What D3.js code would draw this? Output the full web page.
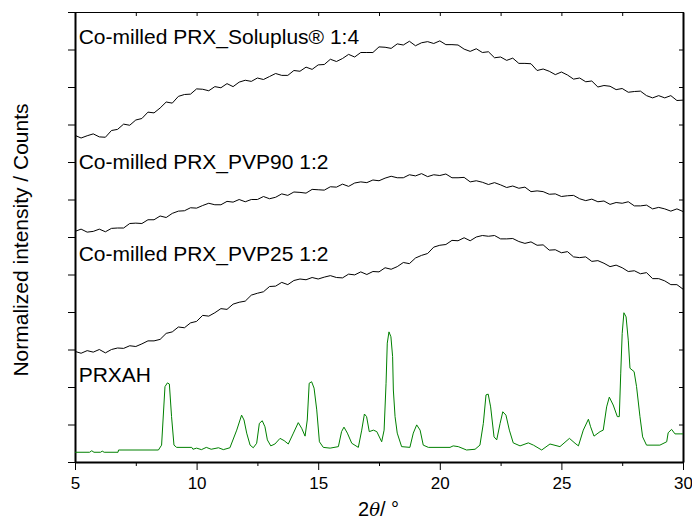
<!DOCTYPE html>
<html>
<head>
<meta charset="utf-8">
<script src="https://cdn.jsdelivr.net/npm/d3@7"></script>
<style>
  body { margin: 0; background: #fff; }
  svg { display: block; font-family: "Liberation Sans", Arial, sans-serif; }
</style>
</head>
<body>
<svg></svg>
<script>
// 2theta grid of the amorphous patterns (0.25 deg step)
const twoTheta = d3.range(0, 101).map(i => 5 + i * 0.25);

// normalized + offset intensities
const soluplus = [
  8.71, 8.64, 8.70, 8.75, 8.67, 8.66, 8.84, 8.87, 9.01, 8.98, 9.12, 9.16, 9.33, 9.31, 9.44, 9.60,
  9.57, 9.75, 9.80, 9.81, 9.95, 9.94, 9.90, 10.01, 9.98, 10.09, 10.01, 10.13, 10.18, 10.15, 10.24, 10.20,
  10.28, 10.36, 10.31, 10.31, 10.44, 10.42, 10.53, 10.47, 10.59, 10.60, 10.74, 10.68, 10.76, 10.87, 10.80, 10.92,
  10.92, 10.92, 11.07, 11.06, 11.03, 11.15, 11.12, 11.22, 11.10, 11.18, 11.21, 11.16, 11.23, 11.13, 11.13, 11.12,
  11.01, 10.95, 11.02, 10.92, 10.94, 10.78, 10.80, 10.71, 10.77, 10.63, 10.63, 10.62, 10.44, 10.48, 10.42, 10.33,
  10.40, 10.32, 10.21, 10.24, 10.14, 10.16, 10.00, 10.04, 10.02, 9.93, 9.96, 9.86, 9.88, 9.89, 9.77, 9.71,
  9.77, 9.71, 9.77, 9.64, 9.65
];
const pvp90 = [
  6.15, 6.21, 6.13, 6.15, 6.21, 6.14, 6.23, 6.24, 6.24, 6.36, 6.37, 6.36, 6.46, 6.46, 6.56, 6.52,
  6.63, 6.69, 6.70, 6.78, 6.77, 6.84, 6.90, 6.86, 6.86, 6.95, 6.93, 7.00, 6.94, 7.00, 7.00, 7.08,
  7.02, 7.06, 7.15, 7.11, 7.20, 7.19, 7.17, 7.27, 7.26, 7.25, 7.34, 7.33, 7.41, 7.35, 7.44, 7.47,
  7.45, 7.52, 7.50, 7.57, 7.62, 7.58, 7.58, 7.66, 7.63, 7.69, 7.61, 7.66, 7.64, 7.68, 7.58, 7.58,
  7.59, 7.47, 7.50, 7.46, 7.40, 7.45, 7.39, 7.32, 7.36, 7.30, 7.33, 7.21, 7.23, 7.21, 7.14, 7.15,
  7.08, 7.10, 7.11, 7.02, 6.97, 7.01, 6.94, 6.96, 6.87, 6.92, 6.90, 6.94, 6.83, 6.83, 6.85, 6.75,
  6.79, 6.75, 6.69, 6.75, 6.68
];
const pvp25 = [
  2.95, 2.90, 2.97, 2.93, 3.00, 2.91, 3.00, 3.04, 3.03, 3.10, 3.08, 3.15, 3.23, 3.23, 3.27, 3.43,
  3.47, 3.60, 3.58, 3.71, 3.75, 3.91, 3.89, 3.98, 4.09, 4.07, 4.21, 4.26, 4.29, 4.45, 4.50, 4.54,
  4.68, 4.69, 4.79, 4.73, 4.84, 4.88, 4.86, 4.92, 4.88, 4.93, 4.97, 4.92, 4.91, 5.01, 4.99, 5.07,
  5.00, 5.08, 5.07, 5.18, 5.14, 5.21, 5.32, 5.29, 5.44, 5.51, 5.56, 5.73, 5.78, 5.80, 5.91, 5.90,
  5.98, 5.90, 6.00, 6.04, 6.02, 6.04, 5.95, 5.95, 5.96, 5.88, 5.83, 5.87, 5.78, 5.79, 5.65, 5.66,
  5.58, 5.61, 5.47, 5.45, 5.47, 5.35, 5.37, 5.30, 5.21, 5.25, 5.18, 5.08, 5.10, 5.02, 5.05, 4.89,
  4.89, 4.83, 4.73, 4.73, 4.61
];

// crystalline PRX AH pattern
const prxTheta = [
  5.00, 5.60, 5.69, 5.78, 6.05, 6.12, 6.20, 6.77, 6.79, 8.43, 8.56, 8.70, 8.80, 8.88, 8.97, 9.07,
  9.18, 9.80, 9.85, 10.0, 10.2, 10.4, 10.6, 10.9, 11.1, 11.37, 11.65, 11.85, 11.95, 12.06, 12.20, 12.33,
  12.47, 12.58, 12.70, 12.81, 12.91, 13.05, 13.22, 13.43, 13.60, 13.77, 13.98, 14.18, 14.32, 14.46, 14.55, 14.63,
  14.73, 14.83, 14.94, 15.05, 15.21, 15.49, 15.83, 15.96, 16.06, 16.20, 16.38, 16.65, 16.79, 16.90, 16.99, 17.10,
  17.27, 17.41, 17.61, 17.71, 17.79, 17.84, 17.91, 17.99, 18.06, 18.09, 18.16, 18.25, 18.43, 18.77, 18.91, 19.05,
  19.19, 19.32, 19.53, 20.42, 20.55, 20.76, 21.10, 21.45, 21.65, 21.79, 21.90, 21.99, 22.09, 22.23, 22.34, 22.48,
  22.59, 22.72, 22.86, 23.02, 23.30, 23.64, 23.85, 24.19, 24.53, 24.94, 25.33, 25.56, 25.70, 25.90, 26.11, 26.20,
  26.34, 26.59, 26.72, 26.86, 26.97, 27.13, 27.30, 27.38, 27.44, 27.50, 27.57, 27.66, 27.75, 27.82, 27.99, 28.09,
  28.23, 28.34, 28.50, 29.05, 29.33, 29.39, 29.53, 29.67, 29.88, 30.00
];
const prxAH = [
  0.26, 0.26, 0.30, 0.26, 0.26, 0.29, 0.26, 0.26, 0.32, 0.32, 0.45, 2.01, 2.11, 2.08, 1.21, 0.45,
  0.39, 0.39, 0.34, 0.37, 0.33, 0.39, 0.34, 0.38, 0.33, 0.38, 0.85, 1.25, 1.12, 0.77, 0.45, 0.38,
  0.50, 1.03, 1.10, 0.94, 0.59, 0.43, 0.48, 0.63, 0.57, 0.48, 0.77, 1.05, 0.90, 0.69, 1.12, 2.10,
  2.14, 1.97, 1.39, 0.54, 0.39, 0.37, 0.41, 0.81, 0.93, 0.77, 0.50, 0.39, 0.85, 1.28, 1.21, 0.81,
  0.85, 0.81, 0.54, 0.85, 2.10, 3.17, 3.47, 3.34, 2.81, 1.92, 1.21, 0.77, 0.41, 0.39, 0.77, 0.99,
  0.85, 0.45, 0.39, 0.39, 0.43, 0.41, 0.32, 0.34, 0.45, 1.03, 1.79, 1.81, 1.47, 0.67, 0.59, 1.03,
  1.34, 1.25, 0.85, 0.51, 0.43, 0.51, 0.45, 0.32, 0.48, 0.41, 0.63, 0.50, 0.43, 0.85, 1.14, 0.94,
  0.69, 0.81, 0.85, 1.47, 1.73, 1.52, 1.21, 1.21, 2.37, 3.43, 3.98, 3.87, 3.25, 2.50, 2.41, 2.01,
  1.21, 0.67, 0.45, 0.45, 0.54, 0.78, 0.87, 0.75, 0.75, 0.75
];

const xMajor = [5, 10, 15, 20, 25, 30];
const xMinor = [7.5, 12.5, 17.5, 22.5, 27.5];
const yTicks = d3.range(0, 13);
const sampleNames = ["Co-milled PRX_Soluplus® 1:4", "Co-milled PRX_PVP90 1:2", "Co-milled PRX_PVP25 1:2", "PRXAH"];

const width = 692, height = 522;
const svg = d3.select("svg").attr("width", width).attr("height", height);

const x = d3.scaleLinear().domain([5, 30]).range([75, 683]);
const y = d3.scaleLinear().domain([0, 12]).range([462, 12]);

// axes / frame
const styleAxis = (g, w) => {
  g.select(".domain").attr("stroke", "#000").attr("stroke-width", w);
  g.selectAll(".tick line").attr("stroke", "#000").attr("stroke-width", 1);
};

svg.append("g").attr("transform", "translate(0,12)")
  .call(d3.axisBottom(x).tickValues(xMajor.concat(xMinor)).tickSize(4).tickSizeOuter(0).tickFormat(""))
  .call(g => styleAxis(g, 1));

svg.append("g").attr("transform", "translate(683,0)")
  .call(d3.axisLeft(y).tickValues(yTicks).tickSize(4).tickSizeOuter(0).tickFormat(""))
  .call(g => styleAxis(g, 2));

svg.append("g").attr("transform", "translate(75,0)")
  .call(d3.axisLeft(y).tickValues(yTicks).tickSize(7).tickSizeOuter(0).tickFormat(""))
  .call(g => styleAxis(g, 2));

svg.append("g").attr("transform", "translate(0,462)")
  .call(d3.axisBottom(x).tickValues(xMinor).tickSize(4).tickSizeOuter(0).tickFormat(""))
  .call(g => g.select(".domain").remove())
  .call(g => g.selectAll(".tick line").attr("stroke", "#000"));

const xAxis = svg.append("g").attr("transform", "translate(0,462)")
  .call(d3.axisBottom(x).tickValues(xMajor).tickSize(8).tickSizeOuter(0).tickPadding(7).tickFormat(d3.format("d")))
  .call(g => styleAxis(g, 2));
xAxis.selectAll("text").attr("fill", "#000").attr("font-size", 17)
  .attr("font-family", "'Liberation Sans', Arial, sans-serif");

// patterns
const line = d3.line().x(d => x(d[0])).y(d => y(d[1]));
[soluplus, pvp90, pvp25].forEach(s => {
  svg.append("path")
    .datum(twoTheta.map((t, i) => [t, s[i]]))
    .attr("d", line)
    .attr("fill", "none")
    .attr("stroke", "#000")
    .attr("stroke-width", 1);
});
svg.append("path")
  .datum(prxTheta.map((t, i) => [t, prxAH[i]]))
  .attr("d", line)
  .attr("fill", "none")
  .attr("stroke", "#008000")
  .attr("stroke-width", 1);

// sample labels
const labelY = [11.16, 7.81, 5.35, 2.14];
sampleNames.forEach((name, i) => {
  svg.append("text")
    .attr("x", x(5.15))
    .attr("y", y(labelY[i]))
    .attr("font-size", 21)
    .attr("fill", "#000")
    .text(name);
});

// axis titles
const xt = svg.append("text")
  .attr("x", 358).attr("y", 516)
  .attr("font-size", 20)
  .attr("fill", "#000");
xt.append("tspan").text("2");
xt.append("tspan").attr("font-style", "italic").attr("font-family", "'DejaVu Serif', serif").attr("font-size", 18).text("θ");
xt.append("tspan").text("/ °");

svg.append("text")
  .attr("transform", "translate(28,240) rotate(-90)")
  .attr("text-anchor", "middle")
  .attr("font-size", 21)
  .attr("fill", "#000")
  .text("Normalized intensity / Counts");
</script>
</body>
</html>
